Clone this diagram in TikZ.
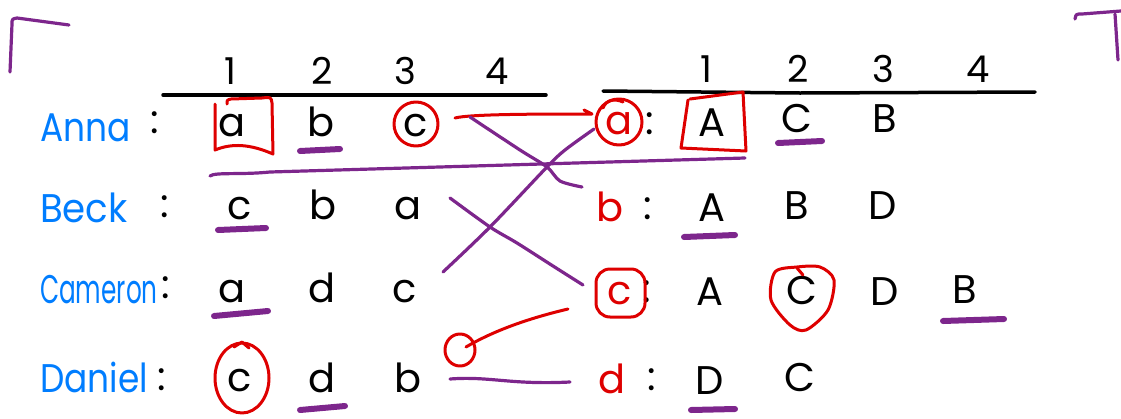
\documentclass[tikz,border=0pt]{standalone}
\usepackage{fontspec}
\setmainfont{Poppins}
\definecolor{pen}{RGB}{125,38,140}
\definecolor{rd}{RGB}{222,0,0}
\definecolor{bl}{RGB}{0,125,255}
\tikzset{
  lt/.style={font=\fontsize{40}{46}\selectfont, inner sep=0pt, anchor=base},
  hn/.style={font=\fontsize{37}{44}\selectfont, inner sep=0pt, anchor=base},
  nm/.style={font=\fontsize{40}{46}\selectfont, inner sep=0pt, text=bl, anchor=base west, xscale=0.86},
  rl/.style={lt, text=rd},
  pu/.style={draw=pen, line width=3.2pt},
  ul/.style={draw=pen, line width=6pt},
  rp/.style={draw=rd, line width=3pt},
  hd/.style={draw=black, line width=3.5pt},
}
\begin{document}
\begin{tikzpicture}[x=1pt,y=-1pt,line cap=round,line join=round]
\useasboundingbox (0,0) rectangle (1121,418);
% brackets
\draw[pu] (10,72) -- (12,24) .. controls (12,19) .. (17,18) -- (69,25);
\draw[pu] (1075,19) .. controls (1076,14) .. (1082,14) -- (1121,11);
\draw[pu] (1115,14) -- (1118,60);
% headers
\node[hn] (l1) at (230,84) {1};
\node[hn] (l2) at (322,84) {2};
\node[hn] (l3) at (405,84) {3};
\node[hn] (l4) at (497,84) {4};
\node[hn] (r1) at (706,82) {1};
\node[hn] (r2) at (798,82) {2};
\node[hn] (r3) at (883,82) {3};
\node[hn] (r4) at (978,82) {4};
\draw[hd] (163,95) -- (546,95);
\draw[hd] (603,91) -- (800,93) -- (1035,92);
% names
\node[nm] (anna) at (40,141) {Anna};
\node[lt] (ca) at (155,133) {:};
\node[nm, xscale=1.08] (beck) at (40,222) {Beck};
\node[lt] (cb) at (165,217) {:};
\node[nm, xscale=0.72] (cam) at (40,303) {Cameron};
\node[lt] (cc) at (166,298) {:};
\node[nm] (dan) at (40,392) {Daniel};
\node[lt] (cd) at (162,390) {:};
% left letters
\node[lt] (a1) at (232,136) {a};
\node[lt] (a2) at (321,136) {b};
\node[lt] (a3) at (416,136) {c};
\node[lt] (b1) at (240,219) {c};
\node[lt] (b2) at (323,219) {b};
\node[lt] (b3) at (408,219) {a};
\node[lt] (c1) at (232,302) {a};
\node[lt] (c2) at (322,302) {d};
\node[lt] (c3) at (405,302) {c};
\node[lt] (d1) at (240,391) {c};
\node[lt] (d2) at (322,392) {d};
\node[lt] (d3) at (408,392) {b};
% right rows
\node[rl] (ra) at (619,134) {a};
\node[lt] (ka) at (650,134) {:};
\node[lt] (e1) at (712,136) {A};
\node[lt] (e2) at (797,132) {C};
\node[lt] (e3) at (885,132) {B};
\node[rl] (rb) at (610,221) {b};
\node[lt] (kb) at (648,219) {:};
\node[lt] (f1) at (712,221) {A};
\node[lt] (f2) at (797,219) {B};
\node[lt] (f3) at (883,219) {D};
\node[rl] (rc) at (620,304) {c};
\node[lt] (kc) at (647,302) {:};
\node[lt] (g1) at (710,305) {A};
\node[lt] (g2) at (802,304) {C};
\node[lt] (g3) at (885,305) {D};
\node[lt] (g4) at (965,303) {B};
\node[rl] (rd) at (612,393) {d};
\node[lt] (kd) at (652,390) {:};
\node[lt] (h1) at (710,394) {D};
\node[lt] (h2) at (800,391) {C};
% red marks
\draw[rp] (215,104) -- (215,150) .. controls (232,143) and (250,144) .. (273,154) -- (272,103) .. controls (271,97) .. (262,98) -- (231,99) .. controls (227,100) .. (227,104);
\draw[rp] (416,124) circle[x radius=22, y radius=22];
\draw[rp] (619,122) circle[x radius=23, y radius=23];
\draw[rp] (603,108) .. controls (606,100) and (614,98) .. (623,102);
\draw[rp] (688,100) -- (681,148) -- (746,151) -- (743,92) -- (690,99);
\draw[rp, rounded corners=14pt] (596,269) rectangle (645,317);
\draw[rp] plot[smooth cycle] coordinates {(797,267) (775,272) (771,300) (790,325) (806,330) (828,310) (834,280) (820,267)};
\draw[rp] (797,268) -- (803,275);
\draw[rp] (242,378) circle[x radius=27, y radius=35];
\draw[rp] (234,347) -- (242,342) -- (249,348);
\draw[rp] (460,350) circle[x radius=15, y radius=16];
% red connectors
\coordinate (s1) at (455,118);
\coordinate (t1) at (592,114);
\draw[rp] (s1) .. controls (470,114) and (540,114) .. (t1) -- (584,110);
\coordinate (s2) at (466,347);
\coordinate (t2) at (568,309);
\draw[rp] (s2) .. controls (495,330) and (530,318) .. (t2);
% underlines
\draw[ul] (300,151) -- (340,149);
\draw[ul] (778,143) -- (822,141);
\draw[ul] (218,230) -- (266,228);
\draw[ul] (684,237) -- (735,235);
\draw[ul] (214,316) -- (268,311);
\draw[ul] (943,321) -- (1004,319);
\draw[ul] (300,410) -- (345,406);
\draw[ul] (691,410) -- (735,409);
% purple connectors
\draw[pu] (210,176) .. controls (215,172) and (240,175) .. (270,172) -- (745,158);
\coordinate (p1s) at (470,117);
\coordinate (p1e) at (582,187);
\draw[pu] plot[smooth] coordinates {(p1s) (520,150) (547,167) (560,181) (p1e)};
\coordinate (p2s) at (594,129);
\coordinate (p2e) at (443,272);
\draw[pu] plot[smooth] coordinates {(p2s) (565,150) (547,167) (490,227) (p2e)};
\coordinate (p3s) at (450,198);
\coordinate (p3e) at (583,285);
\draw[pu] plot[smooth] coordinates {(p3s) (490,227) (517,243) (553,266) (p3e)};
\coordinate (p4s) at (450,379);
\coordinate (p4e) at (570,382);
\draw[pu] (p4s) .. controls (490,376) and (510,385) .. (p4e);
\end{tikzpicture}
\end{document}
